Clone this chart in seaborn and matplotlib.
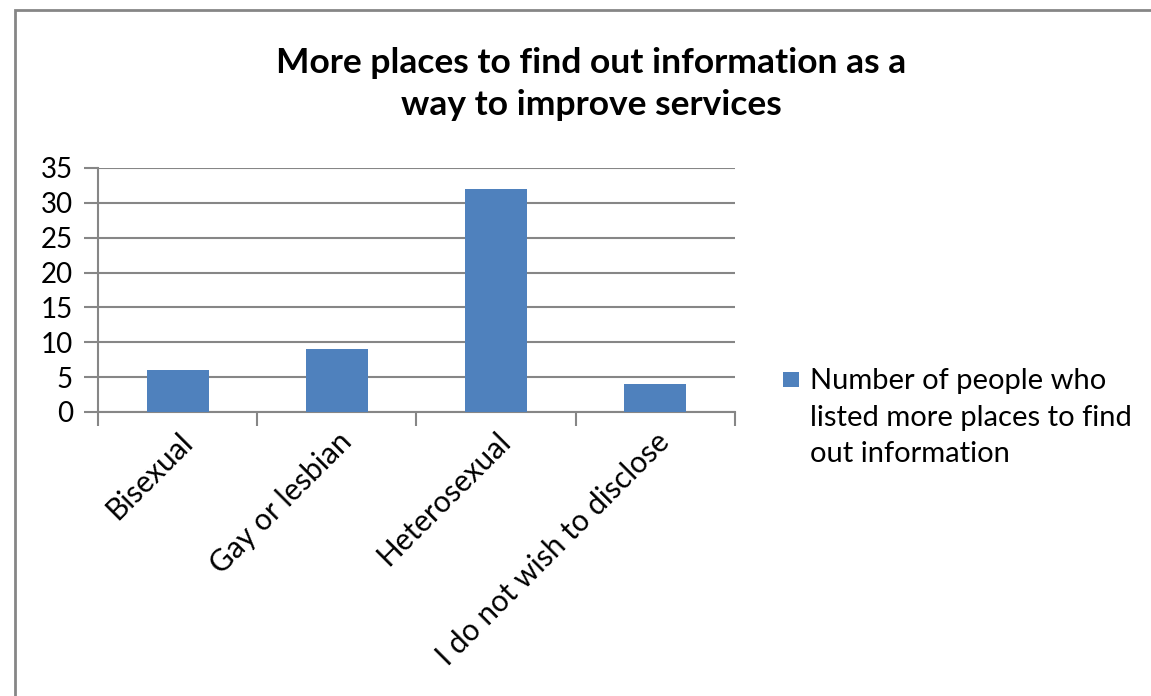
import matplotlib
matplotlib.use("Agg")
import matplotlib.pyplot as plt
import seaborn as sns
import pandas as pd
from matplotlib.patches import Rectangle

categories = ["Bisexual", "Gay or lesbian", "Heterosexual", "I do not wish to disclose"]
values = [6, 9, 32, 4]
series_name = "Number of people who\nlisted more places to find\nout information"
title = "More places to find out information as a\nway to improve services"
yticks = [0, 5, 10, 15, 20, 25, 30, 35]

sns.set_theme(style="white")
plt.rcParams['font.family'] = ['Lato', 'DejaVu Sans']

df = pd.DataFrame({"category": categories, "value": values})
W, H = 1151, 696
fig = plt.figure(figsize=(W/100, H/100), dpi=100)
ax = fig.add_axes([98/W, 1-412/H, (735-98)/W, (412-168)/H])

grey = "#868686"
bar_color = "#4F81BD"
sns.barplot(data=df, x="category", y="value", color=bar_color, width=0.39,
            saturation=1, ax=ax, zorder=3, linewidth=0, edgecolor='none')

ax.set_ylim(0, 35)
ax.set_xlim(-0.5, 3.5)
ax.set_yticks(yticks)
ax.set_yticklabels([str(t) for t in yticks], fontsize=20, color="#000000")
ax.yaxis.grid(True, color=grey, linewidth=1.5, zorder=0)
ax.xaxis.grid(False)
ax.tick_params(axis='y', which='major', length=10, width=1.5, color=grey, pad=8, left=True)

ax.set_xticks(range(len(categories)))
ax.set_xticklabels(categories, rotation=45, ha='right', rotation_mode='anchor',
                   fontsize=21.5, color="#000000")
ax.tick_params(axis='x', which='major', length=0, pad=11)
ax.set_xticks([-0.5, 0.5, 1.5, 2.5, 3.5], minor=True)
ax.tick_params(axis='x', which='minor', length=10, width=1.5, color=grey, bottom=True)

for s in ["top", "right"]:
    ax.spines[s].set_visible(False)
for s in ["left", "bottom"]:
    ax.spines[s].set_color(grey)
    ax.spines[s].set_linewidth(1.5)
ax.set_xlabel("")
ax.set_ylabel("")

fig.text(591/W, 1-84/H, title, ha='center', va='center', fontsize=25.5,
         fontweight='bold', color="#000000", linespacing=1.4)

# legend
fig.patches.append(Rectangle((783/W, 1-387/H), 16/W, 15/H, transform=fig.transFigure,
                             facecolor=bar_color, edgecolor='none'))
fig.text(810/W, 1-418/H, series_name, ha='left', va='center', fontsize=21,
         color="#000000", linespacing=1.5)

# outer border
fig.patches.append(Rectangle((15/W, -0.05), 1.2, 1-10/H+0.05, transform=fig.transFigure,
                             facecolor='none', edgecolor=grey, linewidth=2))

fig.savefig("out.png", dpi=100)
